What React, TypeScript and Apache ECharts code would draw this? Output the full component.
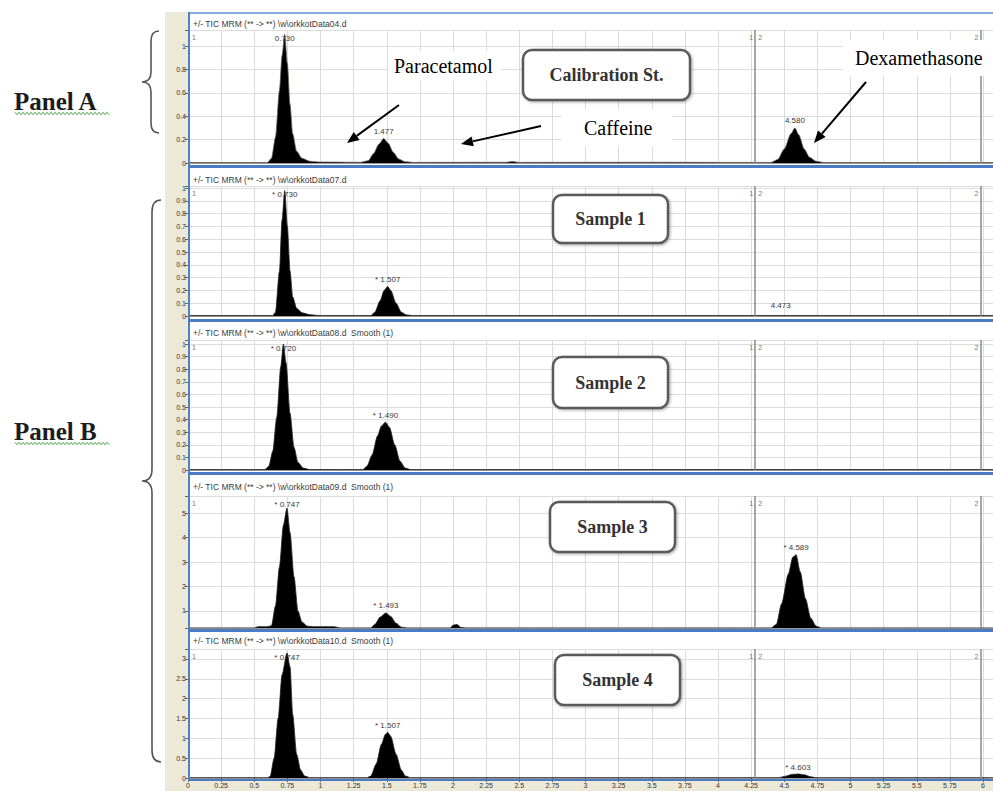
import React, { useEffect, useRef } from "react";
import * as echarts from "echarts";

// ---------------- data ----------------
const timeRange = [0, 6.075];
const timeTickStep = 0.25;
const segmentBoundaries = [4.28, 5.98];
const segmentNumbers = ["1", "2"];

const calibrationTrace = [
  [0.0, 0.004], [0.6, 0.004], [0.63, 0.04], [0.66, 0.22], [0.69, 0.62], [0.71, 0.92], [0.73, 1.1],
  [0.75, 0.85], [0.77, 0.5], [0.79, 0.25], [0.82, 0.1], [0.86, 0.04], [0.92, 0.015], [1.0, 0.008],
  [1.3, 0.006], [1.36, 0.02], [1.4, 0.08], [1.44, 0.16], [1.477, 0.21], [1.51, 0.17], [1.55, 0.09],
  [1.59, 0.035], [1.64, 0.01], [1.7, 0.005], [2.4, 0.006], [2.45, 0.012], [2.5, 0.005], [3.5, 0.006],
  [4.0, 0.005], [4.4, 0.005], [4.45, 0.03], [4.5, 0.12], [4.55, 0.25], [4.58, 0.3], [4.61, 0.24],
  [4.65, 0.12], [4.69, 0.05], [4.74, 0.015], [4.8, 0.004], [6.075, 0.004],
];
const sample1Trace = [
  [0.0, 0.003], [0.64, 0.003], [0.66, 0.03], [0.69, 0.35], [0.71, 0.75], [0.73, 0.98], [0.75, 0.7],
  [0.77, 0.35], [0.79, 0.15], [0.82, 0.06], [0.86, 0.025], [0.92, 0.01], [1.0, 0.003], [1.38, 0.003],
  [1.41, 0.03], [1.45, 0.12], [1.48, 0.2], [1.507, 0.23], [1.53, 0.2], [1.57, 0.1], [1.61, 0.03],
  [1.65, 0.008], [1.7, 0.003], [6.075, 0.003],
];
const sample2Trace = [
  [0.0, 0.003], [0.58, 0.003], [0.61, 0.03], [0.64, 0.15], [0.67, 0.42], [0.7, 0.82], [0.72, 1.0],
  [0.74, 0.85], [0.77, 0.45], [0.8, 0.18], [0.83, 0.06], [0.87, 0.015], [0.92, 0.003], [1.32, 0.003],
  [1.35, 0.03], [1.39, 0.12], [1.43, 0.27], [1.46, 0.35], [1.49, 0.38], [1.52, 0.34], [1.56, 0.2],
  [1.6, 0.07], [1.64, 0.015], [1.68, 0.003], [6.075, 0.003],
];
const sample3Trace = [
  [0.0, 0.31], [0.5, 0.31], [0.53, 0.36], [0.6, 0.36], [0.63, 0.4], [0.66, 1.2], [0.69, 2.8],
  [0.72, 4.5], [0.747, 5.2], [0.77, 4.2], [0.8, 2.4], [0.83, 1.0], [0.86, 0.55], [0.9, 0.38],
  [0.95, 0.36], [1.1, 0.36], [1.15, 0.31], [1.38, 0.31], [1.41, 0.45], [1.45, 0.75], [1.493, 0.92],
  [1.53, 0.78], [1.57, 0.5], [1.61, 0.34], [1.65, 0.31], [1.98, 0.31], [2.0, 0.42], [2.03, 0.45],
  [2.06, 0.33], [2.1, 0.31], [4.4, 0.31], [4.44, 0.45], [4.48, 1.3], [4.53, 2.5], [4.565, 3.2],
  [4.589, 3.3], [4.62, 2.6], [4.66, 1.5], [4.7, 0.7], [4.74, 0.38], [4.78, 0.31], [6.075, 0.31],
];
const sample4Trace = [
  [0.0, 0.008], [0.6, 0.008], [0.62, 0.04], [0.65, 0.5], [0.68, 1.5], [0.71, 2.6], [0.747, 3.15],
  [0.77, 2.8], [0.79, 1.6], [0.82, 0.6], [0.85, 0.2], [0.88, 0.05], [0.92, 0.008], [1.35, 0.008],
  [1.38, 0.05], [1.42, 0.35], [1.46, 0.85], [1.49, 1.1], [1.507, 1.15], [1.53, 1.05], [1.57, 0.6],
  [1.61, 0.2], [1.64, 0.05], [1.68, 0.008], [4.46, 0.008], [4.5, 0.04], [4.56, 0.09], [4.603, 0.1],
  [4.65, 0.08], [4.7, 0.03], [4.74, 0.008], [6.075, 0.008],
];

const calibrationPeaks = [[0.73, 1.1, "0.730"], [1.477, 0.21, "1.477"], [4.58, 0.3, "4.580"]];
const sample1Peaks = [[0.73, 0.98, "* 0.730"], [1.507, 0.23, "* 1.507"], [4.473, 0.03, "4.473"]];
const sample2Peaks = [[0.72, 1.0, "* 0.720"], [1.49, 0.38, "* 1.490"]];
const sample3Peaks = [[0.747, 5.2, "* 0.747"], [1.493, 0.92, "* 1.493"], [4.589, 3.3, "* 4.589"]];
const sample4Peaks = [[0.747, 3.15, "* 0.747"], [1.507, 1.15, "* 1.507"], [4.603, 0.1, "* 4.603"]];

const intensityRanges = [[0, 1.137], [0, 1.016], [0, 1.032], [0.306, 5.694], [0, 3.25]];
const intensityTickSteps = [0.2, 0.1, 0.1, 1, 0.5];

const traceTitles = [
  "+/- TIC MRM (** -> **) \\w\\orkkotData04.d",
  "+/- TIC MRM (** -> **) \\w\\orkkotData07.d",
  "+/- TIC MRM (** -> **) \\w\\orkkotData08.d  Smooth (1)",
  "+/- TIC MRM (** -> **) \\w\\orkkotData09.d  Smooth (1)",
  "+/- TIC MRM (** -> **) \\w\\orkkotData10.d  Smooth (1)",
];
const boxLabels = ["Calibration St.", "Sample 1", "Sample 2", "Sample 3", "Sample 4"];
const compoundLabels = ["Paracetamol", "Caffeine", "Dexamethasone"];
const groupLabels = ["Panel A", "Panel B"];

const traces = [calibrationTrace, sample1Trace, sample2Trace, sample3Trace, sample4Trace];
const peaks = [calibrationPeaks, sample1Peaks, sample2Peaks, sample3Peaks, sample4Peaks];

// ---------------- layout / style ----------------
const W = 993;
const H = 791;
const LEFT = 188;
const panels = [
  { top: 30, bottom: 163, titleY: 24, sepY: 165, sepH: 3 },
  { top: 186, bottom: 316, titleY: 180, sepY: 319, sepH: 3 },
  { top: 340, bottom: 470, titleY: 333, sepY: 472, sepH: 3 },
  { top: 496, bottom: 628, titleY: 487, sepY: 629, sepH: 3 },
  { top: 649, bottom: 778, titleY: 641, sepY: 779, sepH: 2 },
];
const boxes = [
  { x: 523, y: 50, w: 167, h: 50 },
  { x: 553, y: 195, w: 115, h: 48 },
  { x: 553, y: 357, w: 115, h: 51 },
  { x: 550, y: 502, w: 125, h: 50 },
  { x: 555, y: 655, w: 125, h: 50 },
];
const compoundPos = [
  { x: 388, y: 66, pad: [5, 8, 5, 6] },
  { x: 562, y: 128, pad: [9, 20, 8, 22] },
  { x: 843, y: 58, pad: [8, 16, 8, 12] },
];
const arrows = [
  [399, 105, 347, 143],
  [541, 126, 461, 144],
  [866, 82, 814, 143],
];

function bracePath(xEnd: number, xShaft: number, xTip: number, top: number, bottom: number, r: number) {
  const mid = (top + bottom) / 2;
  return (
    `M${xEnd},${top} Q${xShaft},${top} ${xShaft},${top + r} L${xShaft},${mid - r} ` +
    `Q${xShaft},${mid} ${xTip},${mid} Q${xShaft},${mid} ${xShaft},${mid + r} ` +
    `L${xShaft},${bottom - r} Q${xShaft},${bottom} ${xEnd},${bottom}`
  );
}

echarts.graphic.registerShape("braceA", echarts.graphic.extendPath(bracePath(159, 151, 142, 31, 133, 10), {}));
echarts.graphic.registerShape("braceB", echarts.graphic.extendPath(bracePath(161, 152, 142, 200, 762, 12), {}));

const stepFormatter = (step: number) => (v: number) => {
  const k = v / step;
  if (Math.abs(k - Math.round(k)) > 1e-6) return "";
  return String(parseFloat(v.toFixed(3)));
};

function squiggle(x0: number, x1: number, y: number) {
  const pts: number[][] = [];
  let up = true;
  for (let x = x0; x <= x1; x += 2) {
    pts.push([x, y + (up ? -1.2 : 1.2)]);
    up = !up;
  }
  return pts;
}

function arrowElements(x1: number, y1: number, x2: number, y2: number) {
  const ang = Math.atan2(y2 - y1, x2 - x1);
  const len = 12;
  const half = 5;
  const bx = x2 - len * Math.cos(ang);
  const by = y2 - len * Math.sin(ang);
  const px = -Math.sin(ang) * half;
  const py = Math.cos(ang) * half;
  return [
    { type: "line", z: 90, shape: { x1, y1, x2: bx, y2: by }, style: { stroke: "#000", lineWidth: 2 } },
    {
      type: "polygon",
      z: 90,
      shape: { points: [[x2, y2], [bx + px, by + py], [bx - px, by - py]] },
      style: { fill: "#000" },
    },
  ];
}

export default function App() {
  const ref = useRef<HTMLDivElement>(null);

  useEffect(() => {
    document.body.style.margin = "0";
    if (!ref.current) return;
    const chart = echarts.init(ref.current, null, { renderer: "svg" });

    const grids = panels.map((p) => ({
      left: LEFT,
      right: 0,
      top: p.top,
      height: p.bottom - p.top,
      outerBoundsMode: "none",
      containLabel: false,
    }));

    const xAxes = panels.map((p, i) => ({
      type: "value",
      gridIndex: i,
      min: timeRange[0],
      max: timeRange[1],
      interval: timeTickStep,
      axisLine: { show: true, lineStyle: { color: "#999", width: 1 } },
      axisTick: { show: i === panels.length - 1, length: 4, lineStyle: { color: "#555" } },
      axisLabel: {
        show: i === panels.length - 1,
        fontSize: 7,
        margin: 4,
        color: "#333",
        fontFamily: "Liberation Sans",
        showMaxLabel: false,
        formatter: stepFormatter(timeTickStep),
      },
      splitLine: { show: true, lineStyle: { color: "#DCDCDC", width: 1 } },
    }));

    const yAxes = panels.map((p, i) => {
      const [mn, mx] = intensityRanges[i];
      const base: any = {
        type: "value",
        gridIndex: i,
        min: mn,
        max: mx,
        axisLine: { show: false },
        axisTick: { show: true, length: 3, lineStyle: { color: "#666" } },
        axisLabel: {
          fontSize: 7,
          margin: 2,
          color: "#333",
          fontFamily: "Liberation Sans",
          formatter: stepFormatter(intensityTickSteps[i]),
        },
        splitLine: { show: true, lineStyle: { color: "#DCDCDC", width: 1 } },
      };
      if (mn % intensityTickSteps[i] === 0) base.interval = intensityTickSteps[i];
      else base.splitNumber = 5;
      return base;
    });

    const series = panels.map((p, i) => {
      const [mn, mx] = intensityRanges[i];
      const h = p.bottom - p.top;
      return {
        type: "line",
        xAxisIndex: i,
        yAxisIndex: i,
        data: traces[i],
        showSymbol: false,
        symbol: "none",
        smooth: 0.25,
        smoothMonotone: "x",
        silent: true,
        lineStyle: { color: i === 0 ? "#6b6158" : "#222", width: 0.8 },
        areaStyle: { color: "#000", opacity: 1, origin: "start" },
        markLine: {
          silent: true,
          symbol: ["none", "none"],
          label: { show: false },
          lineStyle: { color: "#8a8a8a", width: 1.5, type: "solid" },
          data: segmentBoundaries.map((t) => ({ xAxis: t })),
        },
        markPoint: {
          silent: true,
          symbol: "circle",
          symbolSize: 1,
          itemStyle: { color: "rgba(0,0,0,0)" },
          data: peaks[i].map((pk: any) => {
            const tipY = p.top + ((mx - pk[1]) / (mx - mn)) * h;
            const labY = Math.max(tipY - 7, p.top + 8);
            return {
              coord: [pk[0], pk[1]],
              value: pk[2],
              label: {
                show: true,
                position: "inside",
                offset: [0, labY - tipY],
                formatter: pk[2],
                fontSize: 8,
                color: "#3a3a3a",
                fontFamily: "Liberation Sans",
              },
            };
          }),
        },
      };
    });

    chart.setOption({
      animation: false,
      backgroundColor: "#fff",
      grid: grids,
      xAxis: xAxes,
      yAxis: yAxes,
      series,
    });

    const g: any[] = [];
    // beige axis strip
    g.push({ type: "rect", z: -10, shape: { x: 165, y: 12, width: 23, height: H - 12 }, style: { fill: "#ECE9D8" } });
    g.push({ type: "rect", z: -10, shape: { x: 165, y: 781, width: W - 165, height: 10 }, style: { fill: "#ECE9D8" } });
    // frame
    g.push({ type: "rect", z: 50, shape: { x: LEFT, y: 12, width: W - LEFT, height: 2 }, style: { fill: "#86ABDD" } });
    g.push({ type: "rect", z: 50, shape: { x: LEFT, y: 12, width: 2, height: 769 }, style: { fill: "#4F81C8" } });

    panels.forEach((p, i) => {
      g.push({ type: "rect", z: 50, shape: { x: LEFT, y: p.sepY, width: W - LEFT, height: p.sepH }, style: { fill: "#4A7BC4" } });
      g.push({
        type: "text",
        z: 60,
        x: 193,
        y: p.titleY,
        style: {
          text: traceTitles[i],
          fontSize: 8.5,
          fontFamily: "Liberation Sans",
          fill: "#3a3a3a",
          textVerticalAlign: "middle",
        },
      });
      const my = p.top + 7;
      const mkStyle = (t: string) => ({ text: t, fontSize: 7, fontFamily: "Liberation Sans", fill: "#777", textVerticalAlign: "middle" });
      g.push({ type: "text", z: 60, x: 192, y: my, style: mkStyle(segmentNumbers[0]) });
      const b1 = chart.convertToPixel({ xAxisIndex: i } as any, segmentBoundaries[0]) as number;
      const b2 = chart.convertToPixel({ xAxisIndex: i } as any, segmentBoundaries[1]) as number;
      g.push({ type: "text", z: 60, x: b1 - 6, y: my, style: mkStyle(segmentNumbers[0]) });
      g.push({ type: "text", z: 60, x: b1 + 3, y: my, style: mkStyle(segmentNumbers[1]) });
      g.push({ type: "text", z: 60, x: b2 - 6, y: my, style: mkStyle(segmentNumbers[1]) });
    });

    // Panel group labels
    const groupY = [101.5, 431.5];
    groupLabels.forEach((lab, i) => {
      g.push({
        type: "text",
        z: 80,
        x: 14,
        y: groupY[i],
        style: {
          text: lab,
          fontSize: 25,
          fontWeight: "bold",
          fontFamily: "Liberation Serif",
          fill: "#1c1c1c",
          textVerticalAlign: "middle",
        },
      });
      g.push({
        type: "polyline",
        z: 80,
        shape: { points: squiggle(15, 110, groupY[i] + 12) },
        style: { stroke: "#46a046", lineWidth: 1, fill: "none" },
      });
    });

    // braces
    g.push({ type: "braceA", z: 80, style: { fill: "none", stroke: "#555", lineWidth: 1.6 } });
    g.push({ type: "braceB", z: 80, style: { fill: "none", stroke: "#555", lineWidth: 1.6 } });

    // rounded boxes
    boxes.forEach((b, i) => {
      g.push({
        type: "rect",
        z: 85,
        shape: { x: b.x, y: b.y, width: b.w, height: b.h, r: 9 },
        style: {
          fill: "#fff",
          stroke: "#5a5a5a",
          lineWidth: 2.5,
          shadowBlur: 3,
          shadowColor: "rgba(0,0,0,0.35)",
          shadowOffsetX: 1,
          shadowOffsetY: 1,
        },
      });
      g.push({
        type: "text",
        z: 86,
        x: b.x + b.w / 2,
        y: b.y + b.h / 2,
        style: {
          text: boxLabels[i],
          fontSize: 18,
          fontWeight: "bold",
          fontFamily: "Liberation Serif",
          fill: "#333",
          textAlign: "center",
          textVerticalAlign: "middle",
        },
      });
    });

    // compound annotations
    compoundLabels.forEach((lab, i) => {
      const c = compoundPos[i];
      g.push({
        type: "text",
        z: 88,
        x: c.x,
        y: c.y,
        style: {
          text: lab,
          fontSize: 20,
          fontFamily: "Liberation Serif",
          fill: "#000",
          textVerticalAlign: "middle",
          backgroundColor: "#fff",
          padding: c.pad,
        },
      });
    });
    arrows.forEach((a) => g.push(...arrowElements(a[0], a[1], a[2], a[3])));

    chart.setOption({ graphic: { elements: g } });

    return () => chart.dispose();
  }, []);

  return <div ref={ref} style={{ width: W, height: H }} />;
}
